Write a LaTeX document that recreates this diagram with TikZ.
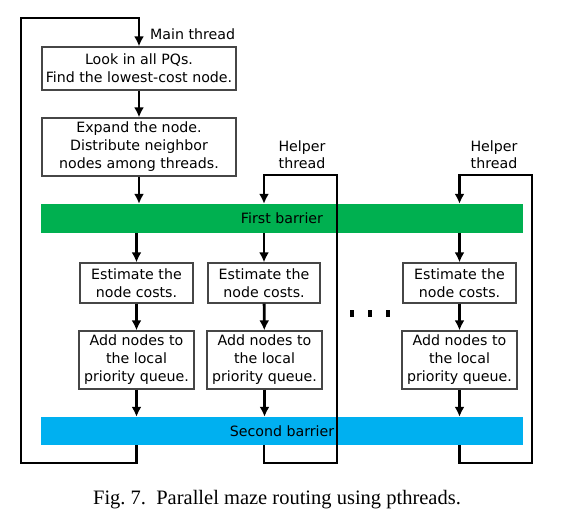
\documentclass[tikz,border=0pt]{standalone}
\usepackage{fontspec}
\setmainfont{DejaVu Sans}
\newfontfamily\capfont{Liberation Serif}
\usetikzlibrary{arrows.meta}
\definecolor{bargreen}{RGB}{0,176,80}
\definecolor{barblue}{RGB}{0,176,240}
\definecolor{boxgray}{RGB}{70,70,70}
\tikzset{
  stepbox/.style={draw=boxgray, line width=1.3pt, fill=white, align=center, inner sep=0pt,
    font=\fontsize{14.2}{18}\selectfont},
  barbox/.style={inner sep=0pt, font=\fontsize{14.2}{16}\selectfont},
  flow/.style={line width=2.8pt, -{Latex[length=10pt,width=10pt]}},
  lbl/.style={align=center, inner sep=0pt, font=\fontsize{14.2}{17}\selectfont},
}
\begin{document}
\begin{tikzpicture}[x=1pt,y=-1pt]
\useasboundingbox (0,0) rectangle (578,520);
% main thread boxes
\node[stepbox, minimum width=194pt, minimum height=43pt] (look) at (139,68.5) {Look in all PQs.\\Find the lowest-cost node.};
\node[stepbox, minimum width=194pt, minimum height=58pt] (expand) at (139,147) {Expand the node.\\Distribute neighbor\\nodes among threads.};
% barriers
\node[barbox, fill=bargreen, minimum width=482pt, minimum height=29pt] (first) at (282,218.5) {First barrier};
\node[barbox, fill=barblue, minimum width=482pt, minimum height=28pt] (second) at (282,431) {Second barrier};
% column boxes
\node[stepbox, minimum width=113pt, minimum height=40pt] (est1) at (136.5,283) {Estimate the\\node costs.};
\node[stepbox, minimum width=112pt, minimum height=40pt] (est2) at (264,283) {Estimate the\\node costs.};
\node[stepbox, minimum width=113pt, minimum height=40pt] (est3) at (459.5,283) {Estimate the\\node costs.};
\node[stepbox, minimum width=115pt, minimum height=58pt] (add1) at (136.5,360) {Add nodes to\\the local\\priority queue.};
\node[stepbox, minimum width=115pt, minimum height=58pt] (add2) at (264.5,360) {Add nodes to\\the local\\priority queue.};
\node[stepbox, minimum width=115pt, minimum height=58pt] (add3) at (459.5,360) {Add nodes to\\the local\\priority queue.};
% labels
\node[lbl, anchor=west] (mainlbl) at (150,34) {Main thread};
\node[lbl] (help1) at (302,155) {Helper\\thread};
\node[lbl] (help2) at (494,155) {Helper\\thread};
% dots
\foreach \dx in {352,370,388} \fill (\dx-1.6,310) rectangle (\dx+1.6,317);
% loop corners
\coordinate (mbl) at (21,463);
\coordinate (mtl) at (21,18);
\coordinate (h1b) at (337,463);
\coordinate (h1t) at (337,175);
\coordinate (h2b) at (532,463);
\coordinate (h2t) at (532,175);
% main thread
\draw[flow] (look) -- (expand);
\draw[flow] (expand) -- (first.north -| expand.south);
\draw[flow] (first.south -| est1.north) -- (est1);
\draw[flow] (est1) -- (add1);
\draw[flow] (add1) -- (second.north -| add1.south);
\draw[flow] (second.south -| add1.south) |- (mbl) -- (mtl) -| (look.north);
% helper 1
\draw[flow] (first.south -| est2.north) -- (est2);
\draw[flow] (est2) -- (add2);
\draw[flow] (add2) -- (second.north -| add2.south);
\draw[flow] (second.south -| est2.north) |- (h1b) -- (h1t) -| (first.north -| est2.north);
% helper 2
\draw[flow] (first.south -| est3.north) -- (est3);
\draw[flow] (est3) -- (add3);
\draw[flow] (add3) -- (second.north -| add3.south);
\draw[flow] (second.south -| est3.north) |- (h2b) -- (h2t) -| (first.north -| est3.north);
% caption
\node[inner sep=0pt, font=\capfont\fontsize{20.5}{24}\selectfont] (cap) at (277,500) {Fig.~7.\ \ Parallel maze routing using pthreads.};
\end{tikzpicture}
\end{document}
